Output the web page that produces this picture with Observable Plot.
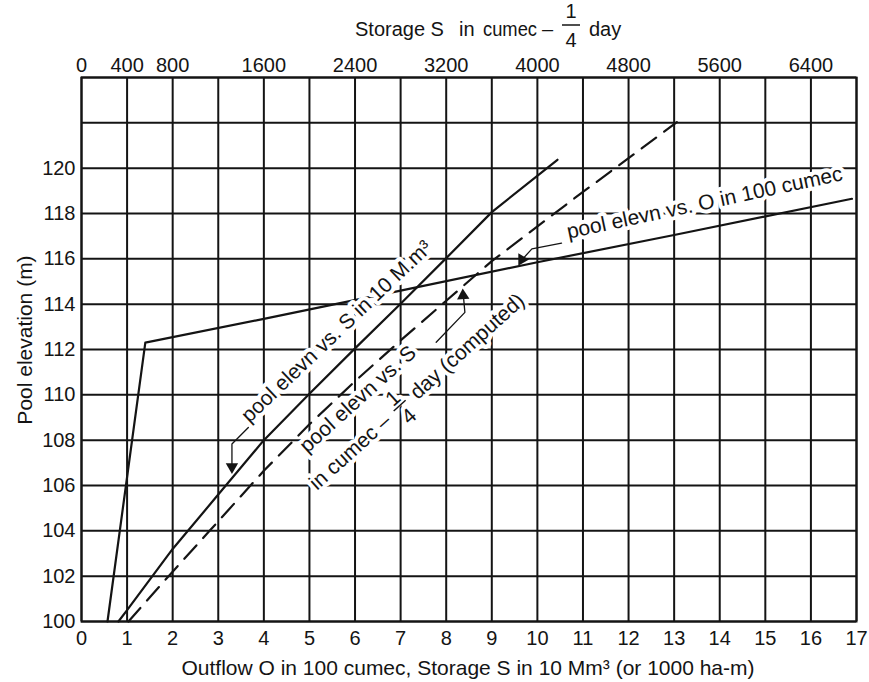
<!DOCTYPE html>
<html><head><meta charset="utf-8">
<script src="https://cdn.jsdelivr.net/npm/d3@7"></script>
<script src="https://cdn.jsdelivr.net/npm/@observablehq/plot@0.6"></script>
<style>
body{margin:0;background:#fff;}
#chart svg{font-family:"Liberation Sans",Arial,Helvetica,sans-serif;}
</style></head><body><div id="chart"></div>
<script>
// ---- data ----
const outflowX = [0.57, 1.40, 4, 7, 10, 13, 16.9];
const outflowY = [100, 112.3, 113.35, 114.6, 115.85, 117.05, 118.65];

const storageX = [0.81, 1, 2, 3, 4, 5, 6, 7, 8, 9, 10.44];
const storageY = [100, 100.5, 103.2, 105.6, 108, 110.05, 112.05, 114.02, 116.03, 118.06, 120.37];

const computedX = [1.03, 1.91, 2.81, 4, 5, 6, 7, 8, 9, 10.8, 13.06];
const computedY = [100, 102, 104, 106.65, 108.7, 110.6, 112.4, 114.15, 115.9, 118.65, 122.03];

const xTicks = [0,1,2,3,4,5,6,7,8,9,10,11,12,13,14,15,16,17];
const topTicks = [0,1,2,4,6,8,10,12,14,16];
const storagePerUnit = 400;
const yTicks = [100,102,104,106,108,110,112,114,116,118,120];
const yGrid = [100,102,104,106,108,110,112,114,116,118,120,122,124];

// leader lines (data units) and arrow heads
const leaderA = [[3.66,108.56],[3.30,107.83],[3.30,106.9]];
const leaderB = [[7.78,112.32],[8.41,113.64],[8.38,114.3]];
const leaderC = [[10.53,116.69],[9.88,116.44],[9.68,116.0]];
const arrowHeads = [
  {x:3.30, y:106.82, r:180},
  {x:8.37, y:114.38, r:-3},
  {x:9.66, y:115.97, r:210}
];

// annotation labels
const labelA = {text:"pool elevn vs. S in 10 M.m³", x:3.68, y:108.73, angle:-43.5};
const labelB1 = {text:"pool elevn vs. S", x:4.95, y:107.40, angle:-42};
const labelB2 = {pre:"in cumec –", num:"1", den:"4", post:"day (computed)", x:5.175, y:105.74, angle:-42};
const labelC = {text:"pool elevn vs. O in 100 cumec", x:10.68, y:116.89, angle:-12};

const toPts = (xs, ys) => xs.map((x, i) => ({x, y: ys[i]}));
const outflow = toPts(outflowX, outflowY);
const storage = toPts(storageX, storageY);
const computed = toPts(computedX, computedY);
const lp = a => a.map(([x,y]) => ({x,y}));

const FONT = "'Liberation Sans', Arial, Helvetica, sans-serif";
const ink = "#141414";
const canvas = document.createElement("canvas");
const ctx = canvas.getContext("2d");
function measure(t, size) { ctx.font = `${size}px ${FONT}`; return ctx.measureText(t).width; }

function textMark(lab) {
  return Plot.text([lab], {x:"x", y:"y", text:"text", rotate: lab.angle, textAnchor:"start", lineAnchor:"bottom",
    fontSize:21, fill:ink, stroke:"white", strokeWidth:8});
}

function fracMark(lab) {
  return (index, scales) => {
    const px = scales.x(lab.x), py = scales.y(lab.y);
    const g = d3.create("svg:g").attr("transform", `translate(${px},${py}) rotate(${lab.angle})`)
      .attr("font-size", 21).attr("font-family", FONT).attr("fill", ink).attr("text-anchor", "start");
    const add = (t, x, y, anchor) => g.append("text").attr("x", x).attr("y", y).attr("text-anchor", anchor || "start")
      .attr("stroke", "white").attr("stroke-width", 8).attr("stroke-linejoin", "round").attr("paint-order", "stroke").text(t);
    add(lab.pre, 0, 0);
    const w1 = measure(lab.pre, 21);
    const fx = w1 + 8 + 9;
    add(lab.num, fx, -11, "middle");
    add(lab.den, fx, 13, "middle");
    g.append("line").attr("x1", fx - 8).attr("x2", fx + 8).attr("y1", -8).attr("y2", -8).attr("stroke", ink).attr("stroke-width", 1.5);
    add(lab.post, fx + 17, 0);
    return g.node();
  };
}

const plot = Plot.plot({
  width: 869, height: 682,
  marginLeft: 81, marginRight: 13, marginTop: 77, marginBottom: 61,
  x: {domain: [0, 17]},
  y: {domain: [100, 124]},
  style: {fontFamily: FONT, fontSize: "20px", color: ink, background: "white", overflow: "visible"},
  marks: [
    Plot.ruleX(xTicks, {stroke: ink, strokeWidth: 2}),
    Plot.ruleY(yGrid, {stroke: ink, strokeWidth: 2}),
    Plot.frame({stroke: ink, strokeWidth: 2}),
    Plot.axisX({ticks: xTicks, tickSize: 0, tickPadding: 9, label: null, fontSize: 20}),
    Plot.axisX({anchor: "top", ticks: topTicks, tickFormat: d => String(d * storagePerUnit), tickSize: 0, tickPadding: 6, label: null, fontSize: 20}),
    Plot.axisY({ticks: yTicks, tickSize: 0, tickPadding: 6, label: null, fontSize: 20}),
    Plot.line(outflow, {x: "x", y: "y", stroke: ink, strokeWidth: 2.2}),
    textMark(labelA),
    Plot.line(storage, {x: "x", y: "y", stroke: ink, strokeWidth: 2.2}),
    Plot.line(computed, {x: "x", y: "y", stroke: ink, strokeWidth: 2.2, strokeDasharray: "18,10"}),
    textMark(labelB1),
    fracMark(labelB2),
    textMark(labelC),
    Plot.line(lp(leaderA), {x: "x", y: "y", stroke: ink, strokeWidth: 1.3}),
    Plot.line(lp(leaderB), {x: "x", y: "y", stroke: ink, strokeWidth: 1.3}),
    Plot.line(lp(leaderC), {x: "x", y: "y", stroke: ink, strokeWidth: 1.3}),
    Plot.dot(arrowHeads, {x: "x", y: "y", rotate: "r", symbol: "triangle", r: 4.6, fill: ink, stroke: "none"})
  ]
});
document.getElementById("chart").appendChild(plot);

// titles
const svg = d3.select(plot);
const T = svg.append("g").attr("font-family", FONT).attr("font-size", 20).attr("fill", ink).attr("text-anchor", "start");
T.append("text").attr("x", 355).attr("y", 36).text("Storage S");
T.append("text").attr("x", 459).attr("y", 36).text("in");
T.append("text").attr("x", 483).attr("y", 36).attr("textLength", 54).attr("lengthAdjust", "spacingAndGlyphs").text("cumec");
T.append("text").attr("x", 542).attr("y", 36).text("–");
T.append("text").attr("x", 571).attr("y", 18).attr("text-anchor", "middle").text("1");
T.append("text").attr("x", 571).attr("y", 47).attr("text-anchor", "middle").text("4");
T.append("line").attr("x1", 562).attr("x2", 580).attr("y1", 25).attr("y2", 25).attr("stroke", ink).attr("stroke-width", 1.5);
T.append("text").attr("x", 589).attr("y", 36).text("day");

const L = svg.append("g").attr("font-family", FONT).attr("font-size", 21).attr("fill", ink);
L.append("text").attr("x", 468).attr("y", 675).attr("text-anchor", "middle")
  .text("Outflow O in 100 cumec, Storage S in 10 Mm³ (or 1000 ha-m)");
L.append("text").attr("transform", "translate(32,340) rotate(-90)").attr("text-anchor", "middle")
  .text("Pool elevation (m)");
</script></body></html>
